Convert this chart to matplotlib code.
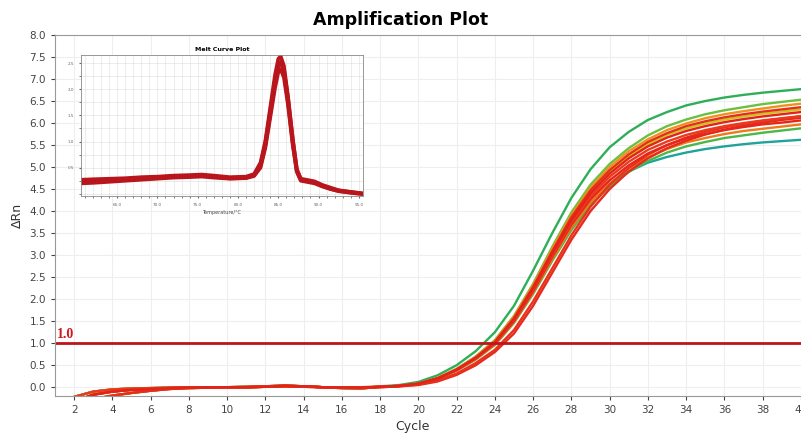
import matplotlib.pyplot as plt
import numpy as np

# amplification data, cycles 1..40
cycles = list(range(1, 41))

base_a = [-0.55, -0.32, -0.17, -0.10, -0.06, -0.04, -0.02, -0.01, 0.0, 0.0, 0.0, 0.01, 0.03, 0.02, 0.0, -0.01, -0.01]
base_b = [-0.40, -0.22, -0.10, -0.05, -0.03, -0.02, -0.01, 0.0, 0.0, 0.0, 0.01, 0.02, 0.04, 0.02, 0.0, -0.02, -0.03]
base_c = [-0.75, -0.48, -0.27, -0.19, -0.13, -0.08, -0.04, -0.02, -0.01, 0.0, 0.0, 0.01, 0.02, 0.01, 0.0, 0.0, 0.0]

# growth part, cycles 18..40
green_hi = [0.02, 0.05, 0.12, 0.27, 0.50, 0.82, 1.25, 1.85, 2.65, 3.50, 4.30, 4.95, 5.45, 5.80, 6.07, 6.25, 6.40, 6.50, 6.58, 6.64, 6.69, 6.73, 6.77]
green_2 = [0.01, 0.03, 0.08, 0.21, 0.42, 0.70, 1.07, 1.62, 2.35, 3.19, 3.97, 4.60, 5.07, 5.43, 5.72, 5.93, 6.08, 6.20, 6.29, 6.36, 6.43, 6.48, 6.53]
green_3 = [0.01, 0.03, 0.08, 0.19, 0.38, 0.63, 0.96, 1.46, 2.12, 2.87, 3.57, 4.14, 4.56, 4.89, 5.14, 5.33, 5.47, 5.57, 5.66, 5.72, 5.78, 5.83, 5.88]
teal_lo = [0.01, 0.03, 0.08, 0.19, 0.38, 0.64, 1.00, 1.50, 2.20, 2.95, 3.65, 4.20, 4.60, 4.90, 5.10, 5.23, 5.33, 5.41, 5.47, 5.52, 5.56, 5.59, 5.62]
yellow_1 = [0.01, 0.03, 0.08, 0.20, 0.40, 0.68, 1.03, 1.57, 2.27, 3.08, 3.84, 4.44, 4.90, 5.25, 5.52, 5.73, 5.88, 5.99, 6.08, 6.15, 6.21, 6.26, 6.31]
orange_1 = [0.01, 0.03, 0.08, 0.21, 0.41, 0.69, 1.05, 1.60, 2.32, 3.14, 3.91, 4.53, 5.00, 5.36, 5.63, 5.84, 5.99, 6.11, 6.20, 6.27, 6.33, 6.39, 6.44]
orange_2 = [0.01, 0.03, 0.08, 0.19, 0.38, 0.64, 0.97, 1.48, 2.15, 2.91, 3.63, 4.20, 4.63, 4.97, 5.22, 5.41, 5.56, 5.66, 5.75, 5.82, 5.87, 5.92, 5.97]
red_1 = [0.01, 0.03, 0.08, 0.20, 0.40, 0.67, 1.02, 1.55, 2.25, 3.05, 3.80, 4.40, 4.85, 5.20, 5.47, 5.67, 5.82, 5.93, 6.02, 6.09, 6.15, 6.20, 6.25]
red_2 = [0.01, 0.03, 0.08, 0.20, 0.39, 0.66, 1.00, 1.53, 2.22, 3.00, 3.74, 4.33, 4.78, 5.12, 5.39, 5.58, 5.73, 5.84, 5.93, 6.00, 6.06, 6.11, 6.16]
red_3 = [0.01, 0.03, 0.08, 0.19, 0.39, 0.65, 0.99, 1.50, 2.18, 2.96, 3.69, 4.27, 4.70, 5.04, 5.31, 5.50, 5.65, 5.75, 5.84, 5.91, 5.97, 6.01, 6.06]
red_4 = [0.01, 0.03, 0.08, 0.20, 0.40, 0.67, 1.03, 1.57, 2.28, 3.09, 3.86, 4.47, 4.93, 5.29, 5.57, 5.77, 5.93, 6.04, 6.13, 6.20, 6.26, 6.31, 6.36]
red_late = [0.0, 0.02, 0.06, 0.15, 0.31, 0.55, 0.85, 1.30, 1.95, 2.70, 3.45, 4.10, 4.60, 4.98, 5.28, 5.50, 5.67, 5.80, 5.90, 5.98, 6.05, 6.10, 6.15]
red_late2 = [0.0, 0.02, 0.05, 0.13, 0.28, 0.50, 0.80, 1.22, 1.85, 2.60, 3.35, 4.00, 4.50, 4.90, 5.20, 5.43, 5.60, 5.74, 5.85, 5.94, 6.01, 6.07, 6.12]

wells = [
    (base_b, teal_lo, '#1fa39a'),
    (base_a, green_3, '#4cb848'),
    (base_b, green_hi, '#2fae5a'),
    (base_c, green_2, '#6cc040'),
    (base_a, yellow_1, '#c9c41c'),
    (base_c, orange_1, '#f0901e'),
    (base_b, orange_2, '#ee7a1c'),
    (base_a, red_late2, '#e52b1c'),
    (base_c, red_late, '#e8321d'),
    (base_a, red_3, '#e6261b'),
    (base_b, red_2, '#ea3a1c'),
    (base_c, red_4, '#e4301b'),
    (base_a, red_1, '#e3221a'),
]

threshold = 1.0

# melt curve data
temps = [60.5, 62, 64, 66, 68, 70, 72, 74, 75.5, 77, 79, 81, 82, 82.8, 83.4, 84, 84.6, 85.0, 85.3, 85.7, 86.2, 86.8, 87.3, 87.8, 88.5, 89.5, 90.5, 91.5, 92.5, 93.5, 94.5, 95.5]
melt_a = [0.24, 0.25, 0.26, 0.27, 0.29, 0.31, 0.33, 0.34, 0.35, 0.33, 0.30, 0.31, 0.36, 0.55, 0.95, 1.55, 2.15, 2.45, 2.52, 2.35, 1.80, 1.00, 0.45, 0.27, 0.25, 0.22, 0.15, 0.10, 0.06, 0.04, 0.02, 0.0]
melt_b = [0.20, 0.21, 0.23, 0.25, 0.27, 0.29, 0.31, 0.32, 0.33, 0.31, 0.29, 0.30, 0.34, 0.50, 0.88, 1.45, 2.02, 2.32, 2.38, 2.22, 1.70, 0.92, 0.42, 0.25, 0.23, 0.20, 0.14, 0.09, 0.05, 0.03, 0.01, 0.0]
melt_c = [0.27, 0.28, 0.29, 0.30, 0.32, 0.33, 0.35, 0.36, 0.37, 0.35, 0.32, 0.33, 0.38, 0.60, 1.02, 1.65, 2.28, 2.58, 2.63, 2.45, 1.88, 1.06, 0.48, 0.29, 0.27, 0.24, 0.17, 0.12, 0.07, 0.05, 0.03, 0.01]

fig = plt.figure(figsize=(8.01, 4.36), dpi=100)
ax = fig.add_axes([0.0687, 0.0917, 0.955, 0.828])

for base, grow, col in wells:
    ax.plot(cycles, base + grow, color=col, lw=1.7, solid_capstyle='round',
            solid_joinstyle='round')

ax.axhline(threshold, color='#c0141a', lw=2)
ax.text(1.1, 1.04, '1.0', color='#d0151b', fontsize=10, fontweight='bold',
        family='Liberation Serif', va='bottom', ha='left')

ax.set_xlim(1, 41)
ax.set_ylim(-0.2, 8.0)
ax.set_xticks(range(2, 41, 2))
ax.set_yticks(np.arange(0, 8.01, 0.5))
ax.set_yticklabels([f'{v:.1f}' for v in np.arange(0, 8.01, 0.5)])
ax.tick_params(labelsize=7.5, colors='#444444', length=3)
ax.grid(True, color='#eeeeee', lw=0.8)
for s in ['left', 'bottom', 'top']:
    ax.spines[s].set_color('#999999')
ax.spines['right'].set_visible(False)
ax.set_ylabel('ΔRn', fontsize=9, color='#333333', labelpad=4)
fig.text(412 / 801, 1 - 426 / 436, 'Cycle', ha='center', va='center',
         fontsize=9, color='#333333')

fig.text(0.5, 0.955, 'Amplification Plot', ha='center', va='center',
         fontsize=12.5, fontweight='bold')

# inset melt curve
ins = fig.add_axes([0.101, 0.5505, 0.352, 0.323])
ins.set_facecolor('white')
for m, w in [(melt_b, 2.6), (melt_c, 2.6), (melt_a, 3.0)]:
    ins.plot(temps, m, color='#b8161c', lw=w, solid_joinstyle='round')
ins.set_xlim(60.5, 95.5)
ins.set_ylim(-0.04, 2.65)
ins.set_xticks(range(65, 96, 5))
ins.set_xticklabels([f'{t:.1f}' for t in range(65, 96, 5)])
ins.set_yticks([0.5, 1.0, 1.5, 2.0, 2.5])
ins.set_xticks(np.arange(61, 96, 1), minor=True)
ins.set_yticks(np.arange(0, 2.65, 0.25), minor=True)
ins.grid(True, which='both', color='#dddddd', lw=0.4)
ins.tick_params(labelsize=3, colors='#666666', length=1.5, which='both')
for s in ins.spines.values():
    s.set_color('#888888')
    s.set_linewidth(0.6)
ins.set_title('Melt Curve Plot', fontsize=4.5, fontweight='bold', pad=3)
ins.set_xlabel('Temperature/°C', fontsize=3.5, labelpad=2, color='#444444')

fig.savefig('out.png', dpi=100)
